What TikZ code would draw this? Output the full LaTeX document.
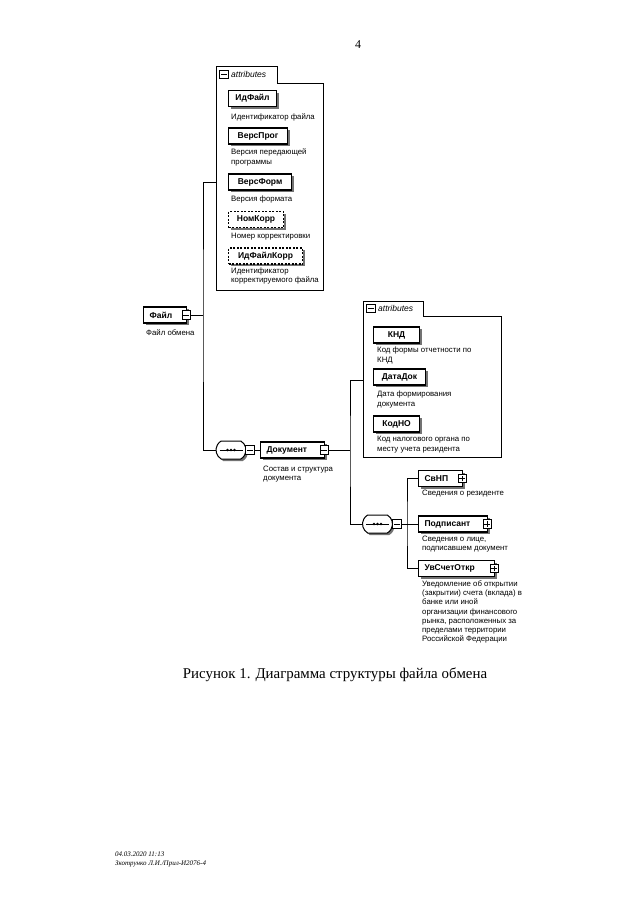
\documentclass[tikz,border=0pt]{standalone}
\usepackage{fontspec}
\setmainfont{Liberation Serif}
\setsansfont{Liberation Sans}
\usetikzlibrary{shadows,shapes.misc}

\tikzset{
  elem/.style={draw, line width=1.1pt, fill=white, anchor=west,
    font=\sffamily\bfseries\fontsize{8.5}{10}\selectfont,
    minimum height=16pt, inner xsep=6pt, inner ysep=0pt,
    drop shadow={shadow xshift=2pt, shadow yshift=-2pt, fill=black!55, opacity=1}},
  optelem/.style={elem, dash pattern=on 2pt off 1.5pt},
  note/.style={anchor=north west, inner sep=0pt, align=left,
    font=\sffamily\fontsize{7.8}{9.5}\selectfont},
  tgl/.style={draw, fill=white, line width=0.7pt, minimum size=8.5pt, inner sep=0pt},
  minus/.style={tgl, path picture={\draw[line width=0.7pt]
    ([xshift=1.5pt]path picture bounding box.west) -- ([xshift=-1.5pt]path picture bounding box.east);}},
  plus/.style={tgl, path picture={\draw[line width=0.7pt]
    ([xshift=1.5pt]path picture bounding box.west) -- ([xshift=-1.5pt]path picture bounding box.east)
    ([yshift=1.5pt]path picture bounding box.south) -- ([yshift=-1.5pt]path picture bounding box.north);}},
  seq/.style={draw, line width=1pt, fill=white, rounded rectangle,
    rounded rectangle arc length=120, minimum width=30pt, minimum height=18pt, inner sep=0pt,
    drop shadow={shadow xshift=2pt, shadow yshift=-2pt, fill=black!55, opacity=1}},
  attrlabel/.style={anchor=west, inner sep=0pt, font=\sffamily\itshape\fontsize{8.5}{10}\selectfont},
  conn/.style={line width=0.8pt}
}

\begin{document}
\begin{tikzpicture}[x=1pt,y=-1pt]
  \useasboundingbox (0,0) rectangle (640,905);

  % page number
  \node[font=\rmfamily\fontsize{12}{14}\selectfont] (pagenum) at (358,45) {4};

  % junction points
  \coordinate (j1) at (203,315);
  \coordinate (j2) at (350,450);
  \coordinate (j3) at (407,524);
  \coordinate (attr1-in) at (216,182);
  \coordinate (attr2-in) at (363,380);

  % attributes of Файл
  \draw[line width=0.8pt] (216,290) -- (216,66) -- (277,66) -- (277,83) -- (323,83) -- (323,290) -- cycle;
  \node[minus] (attr1-t) at (224,74.5) {};
  \node[attrlabel] (attr1-l) at (231,74.5) {attributes};

  \node[elem, text width=36pt, align=center] (idfajl) at (228,98.5) {ИдФайл};
  \node[note] (idfajl-d) at (231,114) {Идентификатор файла};
  \node[elem, text width=47pt, align=center] (versprog) at (228,136) {ВерсПрог};
  \node[note] (versprog-d) at (231,149) {Версия передающей\\программы};
  \node[elem, text width=51pt, align=center] (versform) at (228,182) {ВерсФорм};
  \node[note] (versform-d) at (231,196) {Версия формата};
  \node[optelem, text width=43pt, align=center] (nomkorr) at (228,219.5) {НомКорр};
  \node[note] (nomkorr-d) at (231,233) {Номер корректировки};
  \node[optelem, text width=62pt, align=center] (idfajlkorr) at (228,256) {ИдФайлКорр};
  \node[note] (idfajlkorr-d) at (231,267.5) {Идентификатор\\корректируемого файла};

  % Файл
  \node[elem, text width=31pt, align=left] (fajl) at (143,315) {Файл};
  \node[minus] (fajl-t) at ([xshift=-1pt]fajl.east) {};
  \node[note] (fajl-d) at (146,329.5) {Файл обмена};

  % sequence and Документ
  \node[seq] (seq1) at (231,450) {};
  \draw[line width=0.8pt] ([xshift=4pt]seq1.west) -- ([xshift=-4pt]seq1.east);
  \foreach \d in {-3.5,0,3.5}
    \fill ([xshift=\d pt]seq1.center) circle (1.3pt);
  \node[minus] (seq1-t) at (250,450) {};

  \node[elem, text width=52pt, align=left] (dokument) at (260,450) {Документ};
  \node[minus] (dokument-t) at ([xshift=-1pt]dokument.east) {};
  \node[note] (dokument-d) at (263,465.5) {Состав и структура\\документа};

  % attributes of Документ
  \draw[line width=0.8pt] (363,457) -- (363,301) -- (423,301) -- (423,316) -- (501,316) -- (501,457) -- cycle;
  \node[minus] (attr2-t) at (371,308.5) {};
  \node[attrlabel] (attr2-l) at (378,308.5) {attributes};

  \node[elem, text width=34pt, align=center] (knd) at (373,335) {КНД};
  \node[note] (knd-d) at (377,347) {Код формы отчетности по\\КНД};
  \node[elem, text width=40pt, align=center] (datadok) at (373,377) {ДатаДок};
  \node[note] (datadok-d) at (377,391) {Дата формирования\\документа};
  \node[elem, text width=34pt, align=center] (kodno) at (373,424) {КодНО};
  \node[note] (kodno-d) at (377,436) {Код налогового органа по\\месту учета резидента};

  % second sequence
  \node[seq] (seq2) at (377.5,524) {};
  \draw[line width=0.8pt] ([xshift=4pt]seq2.west) -- ([xshift=-4pt]seq2.east);
  \foreach \d in {-3.5,0,3.5}
    \fill ([xshift=\d pt]seq2.center) circle (1.3pt);
  \node[minus] (seq2-t) at (397,524) {};

  \node[elem, text width=32pt, align=left] (svnp) at (418,478.5) {СвНП};
  \node[plus] (svnp-t) at ([xshift=-1pt]svnp.east) {};
  \node[note] (svnp-d) at (422,490) {Сведения о резиденте};

  \node[elem, text width=57pt, align=left] (podpisant) at (418,524) {Подписант};
  \node[plus] (podpisant-t) at ([xshift=-1pt]podpisant.east) {};
  \node[note] (podpisant-d) at (422,535.5) {Сведения о лице,\\подписавшем документ};

  \node[elem, text width=64pt, align=left] (uvschet) at (418,568.5) {УвСчетОткр};
  \node[plus] (uvschet-t) at ([xshift=-1pt]uvschet.east) {};
  \node[note, font=\sffamily\fontsize{7.8}{9.2}\selectfont] (uvschet-d) at (422,580.5) {Уведомление об открытии\\(закрытии) счета (вклада) в\\банке или иной\\организации финансового\\рынка, расположенных за\\пределами территории\\Российской Федерации};

  % connectors
  \draw[conn] (fajl-t.east) -- (j1);
  \draw[conn] (attr1-in) -| (j1) |- (seq1.west);
  \draw[conn] (seq1-t.east) -- (dokument.west);
  \draw[conn] (dokument-t.east) -- (j2);
  \draw[conn] (attr2-in) -| (j2) |- (seq2.west);
  \draw[conn] (seq2-t.east) -- (j3);
  \draw[conn] (svnp.west) -| (j3) |- (uvschet.west);
  \draw[conn] (j3) -- (podpisant.west);

  % caption and footer
  \node[font=\rmfamily\fontsize{14.9}{17}\selectfont] (caption) at (335,675) {Рисунок 1. Диаграмма структуры файла обмена};
  \node[note, font=\rmfamily\itshape\fontsize{7}{9}\selectfont] (footer) at (115,852) {04.03.2020 11:13\\Зкотрунко Л.И./Прил-И2076-4};
\end{tikzpicture}
\end{document}
